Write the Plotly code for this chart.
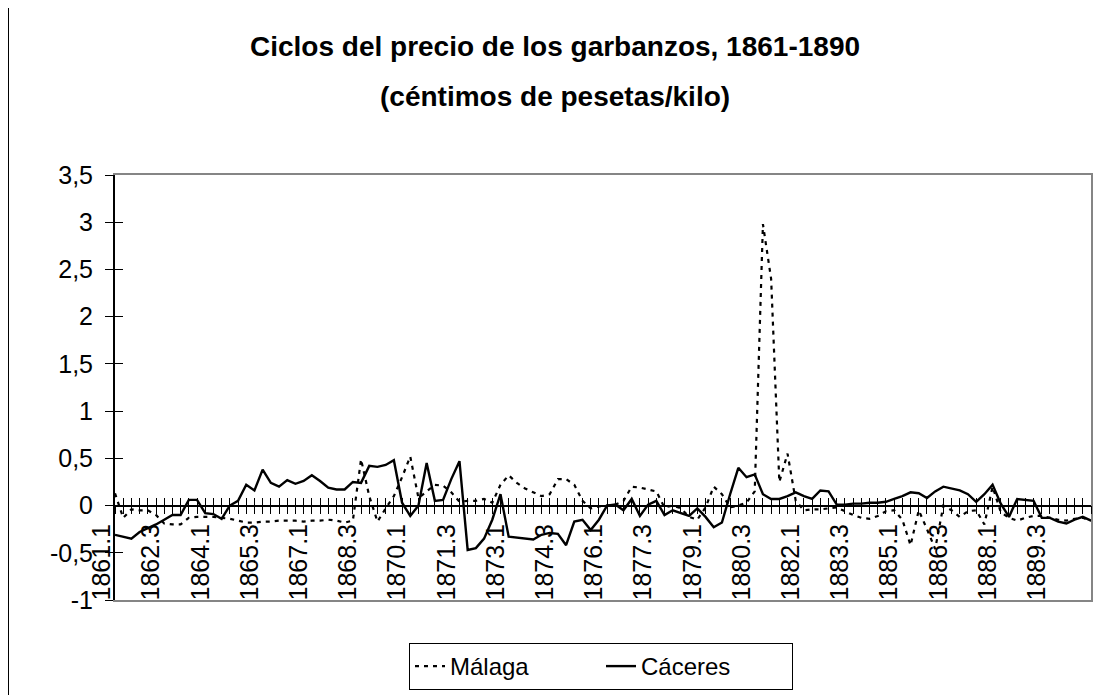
import plotly.graph_objects as go

# Categories: quarterly observations 1861.1 ... 1890.4
quarters = [f"{y}.{q}" for y in range(1861, 1891) for q in range(1, 5)]
label_quarters = quarters[::6]

malaga = [
    0.13, -0.13, -0.04, -0.05, -0.05, -0.10, -0.19, -0.20, -0.20, -0.13,
    -0.12, -0.12, -0.12, -0.13, -0.14, -0.16, -0.18, -0.18, -0.17, -0.17,
    -0.16, -0.16, -0.16, -0.17, -0.16, -0.16, -0.15, -0.16, -0.18, -0.16,
    0.49, 0.10, -0.17, -0.03, 0.10, 0.30, 0.52, 0.08, 0.15, 0.22,
    0.21, 0.14, 0.04, 0.05, 0.05, 0.07, 0.03, 0.22, 0.32, 0.24,
    0.18, 0.14, 0.10, 0.12, 0.28, 0.28, 0.22, 0.05, -0.03, -0.01,
    0.00, 0.01, 0.05, 0.20, 0.19, 0.17, 0.15, -0.02, 0.00, -0.03,
    -0.12, -0.15, -0.02, 0.20, 0.12, -0.02, 0.00, 0.03, 0.15, 2.98,
    2.40, 0.25, 0.55, 0.05, -0.05, -0.04, -0.04, -0.03, -0.02, -0.06,
    -0.10, -0.13, -0.14, -0.11, -0.06, -0.05, -0.15, -0.42, -0.05, -0.25,
    -0.46, 0.00, -0.05, -0.12, -0.06, -0.05, -0.20, 0.20, -0.07, -0.13,
    -0.16, -0.13, -0.11, -0.11, -0.13, -0.15, -0.16, -0.14, -0.13, -0.16,
]

caceres = [
    -0.31, -0.33, -0.35, -0.28, -0.24, -0.20, -0.15, -0.10, -0.10, 0.06,
    0.06, -0.08, -0.09, -0.14, 0.00, 0.05, 0.22, 0.16, 0.38, 0.24,
    0.20, 0.27, 0.23, 0.26, 0.32, 0.26, 0.19, 0.17, 0.17, 0.25,
    0.24, 0.42, 0.41, 0.43, 0.48, 0.03, -0.11, 0.00, 0.45, 0.05,
    0.06, 0.28, 0.47, -0.47, -0.45, -0.35, -0.15, 0.12, -0.33, -0.34,
    -0.35, -0.36, -0.31, -0.29, -0.30, -0.42, -0.17, -0.15, -0.26, -0.15,
    0.00, 0.01, -0.05, 0.07, -0.11, 0.01, 0.05, -0.10, -0.05, -0.08,
    -0.11, -0.03, -0.12, -0.23, -0.18, 0.12, 0.40, 0.30, 0.33, 0.12,
    0.07, 0.07, 0.10, 0.14, 0.10, 0.07, 0.16, 0.15, 0.01, 0.01,
    0.02, 0.02, 0.03, 0.03, 0.04, 0.07, 0.10, 0.14, 0.13, 0.08,
    0.15, 0.20, 0.18, 0.16, 0.12, 0.04, 0.12, 0.22, 0.02, -0.12,
    0.07, 0.06, 0.05, -0.13, -0.13, -0.17, -0.19, -0.15, -0.12, -0.16,
]

y_ticks = [-1, -0.5, 0, 0.5, 1, 1.5, 2, 2.5, 3, 3.5]
y_tick_text = ["-1", "-0,5", "0", "0,5", "1", "1,5", "2", "2,5", "3", "3,5"]

title_line1 = "Ciclos del precio de los garbanzos, 1861-1890"
title_line2 = "(céntimos de pesetas/kilo)"

FONT = "Liberation Sans, Arial, sans-serif"
Y_MIN, Y_MAX = -1, 3.5
zero_pos = (0 - Y_MIN) / (Y_MAX - Y_MIN)
n = len(quarters)

# the page body adds an 8px offset; work in screen pixels and convert
OFF = 8
FIG_W, FIG_H = 1104 - OFF, 695 - OFF
# plot area in screen pixels
L, R, T, B = 115, 1091, 175, 600
W, H = R - L, B - T


def px_x(x):
    return (x - L) / W


def px_y(y):
    return (B - y) / H


fig = go.Figure()
fig.add_trace(go.Scatter(
    x=quarters, y=malaga, name="Málaga", mode="lines",
    line=dict(color="black", width=2.2, dash="4px,5px"),
))
fig.add_trace(go.Scatter(
    x=quarters, y=caceres, name="Cáceres", mode="lines",
    line=dict(color="black", width=2.4),
))
# invisible carriers for the crossing-tick axes and the label axis
for xa in ("x2", "x3", "x4"):
    fig.add_trace(go.Scatter(
        x=quarters, y=caceres, xaxis=xa, yaxis="y2", mode="lines",
        line=dict(width=0), opacity=0, showlegend=False, hoverinfo="skip",
    ))

cat_axis = dict(type="category", range=[0, n - 1], showgrid=False, zeroline=False,
                fixedrange=True, automargin=False)

fig.update_layout(
    width=FIG_W, height=FIG_H,
    margin=dict(l=L - OFF, r=1104 - R, t=T - OFF, b=695 - B, autoexpand=False),
    paper_bgcolor="white", plot_bgcolor="white",
    font=dict(family=FONT, color="black", size=24),
    separators=",.",
    showlegend=True,
    xaxis=dict(
        **cat_axis,
        showline=True, linecolor="#858585", linewidth=2, mirror=True,
        ticks="", showticklabels=False,
    ),
    xaxis2=dict(
        **cat_axis, overlaying="x", anchor="free", position=zero_pos,
        showline=True, linecolor="black", linewidth=1.5,
        ticks="outside", ticklen=8, tickwidth=1, tickcolor="black",
        tickmode="linear", tick0=0, dtick=1, showticklabels=False,
    ),
    xaxis3=dict(
        **cat_axis, overlaying="x", anchor="free", position=zero_pos,
        showline=False,
        ticks="inside", ticklen=8, tickwidth=1, tickcolor="black",
        tickmode="linear", tick0=0, dtick=1, showticklabels=False,
    ),
    xaxis4=dict(
        **cat_axis, overlaying="x", anchor="free", position=px_y(518),
        showline=False, ticks="",
        tickmode="array", tickvals=label_quarters, ticktext=label_quarters,
        tickangle=-90, ticklabelshift=-13,
        tickfont=dict(size=25, family=FONT, color="black"),
    ),
    yaxis=dict(
        range=[Y_MIN, Y_MAX], showgrid=False, zeroline=False, fixedrange=True,
        automargin=False,
        showline=True, linecolor="#858585", linewidth=2, mirror=True,
        tickmode="array", tickvals=y_ticks, ticktext=y_tick_text,
        ticks="outside", ticklen=8, tickwidth=1, tickcolor="black",
        ticklabelstandoff=7,
        tickfont=dict(size=25, family=FONT, color="black"),
    ),
    yaxis2=dict(
        range=[Y_MIN, Y_MAX], overlaying="y", side="left", anchor="x",
        showgrid=False, zeroline=False, fixedrange=True, automargin=False,
        showline=True, linecolor="black", linewidth=1.5,
        tickmode="array", tickvals=y_ticks,
        ticks="inside", ticklen=8, tickwidth=1, tickcolor="black",
        showticklabels=False,
    ),
    legend=dict(
        orientation="h", x=px_x(409), y=px_y(643),
        xanchor="left", yanchor="top",
        bgcolor="white", bordercolor="black", borderwidth=1,
        font=dict(size=24, family=FONT, color="black"),
        entrywidth=146,
    ),
    annotations=[
        dict(text=f"<b>{title_line1}</b>", xref="paper", yref="paper",
             x=px_x(555), y=px_y(47), xanchor="center", yanchor="middle",
             showarrow=False, font=dict(size=28, family=FONT, color="black")),
        dict(text=f"<b>{title_line2}</b>", xref="paper", yref="paper",
             x=px_x(555), y=px_y(96), xanchor="center", yanchor="middle",
             showarrow=False, font=dict(size=28, family=FONT, color="black")),
    ],
    shapes=[
        dict(type="line", xref="paper", yref="paper",
             x0=px_x(8.5), x1=px_x(8.5), y0=px_y(8), y1=px_y(700),
             line=dict(color="black", width=1)),
    ],
)

fig.write_html("out.html")
